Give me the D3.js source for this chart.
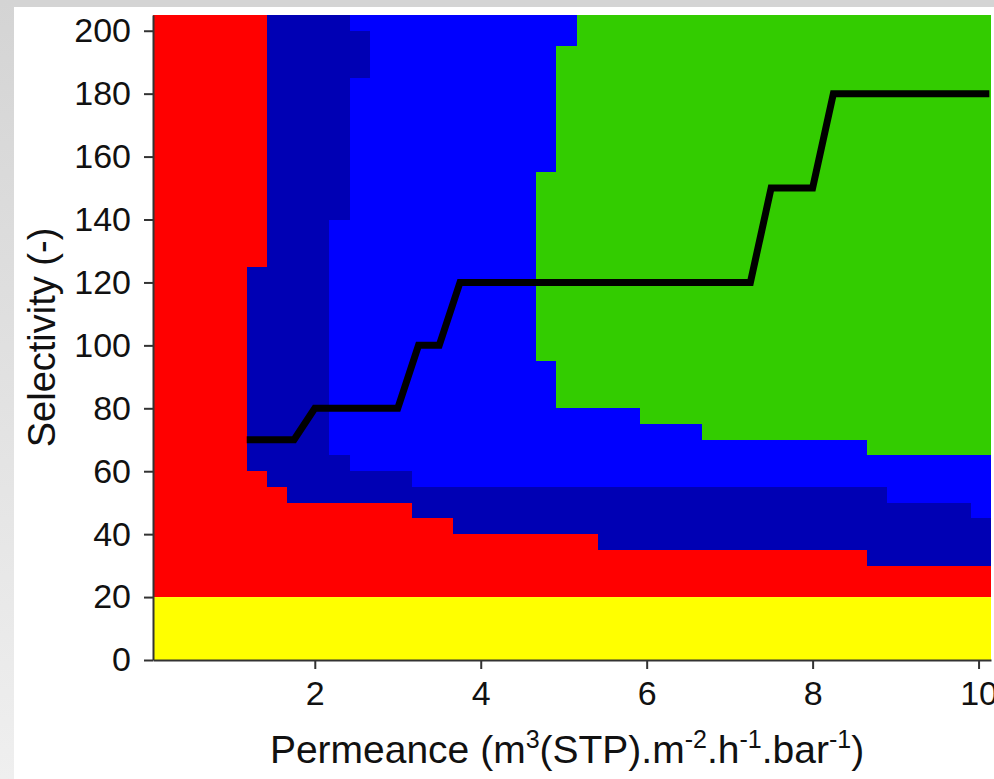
<!DOCTYPE html>
<html>
<head>
<meta charset="utf-8">
<script src="https://cdn.jsdelivr.net/npm/d3@7"></script>
<style>
  body { margin: 0; background: #fff; }
  .axis .domain, .axis line { stroke: #333; stroke-width: 2; }
  .axis text { font-family: "Liberation Sans", Arial, sans-serif; font-size: 34px; fill: #111; }
  .title { font-family: "Liberation Sans", Arial, sans-serif; fill: #111; }
</style>
</head>
<body>
<div class="map_plot"></div>
<script>
// axis ranges and ticks
const xExtent = [0.05, 10.15];
const yExtent = [0, 205];
const xTicks = [2, 4, 6, 8, 10];
const yTicks = [0, 20, 40, 60, 80, 100, 120, 140, 160, 180, 200];

// region boundaries (permeance, selectivity)
const yellowTop = 20;
// left edges: [x, y where this edge starts going down]
const navyLeft = [[1.42, 205], [1.18, 125]];
const navyFloor = [[1.18, 60], [1.42, 55], [1.67, 50], [3.17, 45], [3.66, 40], [5.41, 35], [8.66, 30]];
const blueLeft = [[2.42, 205], [2.67, 200], [2.42, 185], [2.17, 140]];
const blueFloor = [[2.17, 65], [2.42, 60], [3.17, 55], [8.9, 50], [9.91, 45]];
const greenLeft = [[5.16, 205], [4.91, 195], [4.67, 155]];
const greenFloor = [[4.67, 95], [4.91, 80], [5.92, 75], [6.67, 70], [8.66, 65]];

// black staircase line
const optimum = [[1.18, 70], [1.75, 70], [2.0, 80], [3.0, 80], [3.25, 100], [3.5, 100],
                 [3.75, 120], [7.25, 120], [7.5, 150], [8.0, 150], [8.25, 180], [10.13, 180]];

const W = 994, H = 779;
const margin = {top: 15, right: 3, bottom: 119, left: 153};

const svg = d3.select('.map_plot')
              .append('svg')
              .attr('width', W)
              .attr('height', H);

// grey frame of the screenshot
const defs = svg.append('defs');
const grad = defs.append('linearGradient')
                 .attr('id', 'leftFade')
                 .attr('x1', 0).attr('y1', 0).attr('x2', 0).attr('y2', 1);
grad.append('stop').attr('offset', '0%').attr('stop-color', '#d4d4d4');
grad.append('stop').attr('offset', '100%').attr('stop-color', '#efefef');
svg.append('rect').attr('width', W).attr('height', 7).attr('fill', '#d4d4d4');
svg.append('rect').attr('y', 0).attr('width', 14).attr('height', H).attr('fill', 'url(#leftFade)');

const x = d3.scaleLinear().domain(xExtent).range([margin.left, W - margin.right]);
const y = d3.scaleLinear().domain(yExtent).range([H - margin.bottom, margin.top]);

defs.append('clipPath').attr('id', 'plotClip')
    .append('rect')
    .attr('x', x(xExtent[0])).attr('y', y(yExtent[1]))
    .attr('width', x(xExtent[1]) - x(xExtent[0]))
    .attr('height', y(yExtent[0]) - y(yExtent[1]));

// build a staircase polygon from a left edge and a floor
function region(left, floor) {
    const pts = [[xExtent[1], yExtent[1]]];
    left.forEach((d, i) => {
        pts.push([d[0], d[1]]);
        const nextY = i < left.length - 1 ? left[i + 1][1] : floor[0][1];
        pts.push([d[0], nextY]);
    });
    floor.forEach((d, i) => {
        const nextX = i < floor.length - 1 ? floor[i + 1][0] : xExtent[1];
        pts.push([nextX, d[1]]);
        if (i < floor.length - 1) pts.push([nextX, floor[i + 1][1]]);
    });
    return pts;
}

const line = d3.line().x(d => x(d[0])).y(d => y(d[1]));
const plot = svg.append('g').attr('clip-path', 'url(#plotClip)');

plot.append('rect')
    .attr('x', x(xExtent[0])).attr('y', y(yExtent[1]))
    .attr('width', x(xExtent[1]) - x(xExtent[0]))
    .attr('height', y(yellowTop) - y(yExtent[1]))
    .attr('fill', '#ff0000');
plot.append('rect')
    .attr('x', x(xExtent[0])).attr('y', y(yellowTop))
    .attr('width', x(xExtent[1]) - x(xExtent[0]))
    .attr('height', y(yExtent[0]) - y(yellowTop))
    .attr('fill', '#ffff00');

const layers = [
    {left: navyLeft, floor: navyFloor, color: '#0000b4'},
    {left: blueLeft, floor: blueFloor, color: '#0000ff'},
    {left: greenLeft, floor: greenFloor, color: '#33cc00'}
];
plot.selectAll('path.zone')
    .data(layers)
    .enter()
    .append('path')
    .attr('class', 'zone')
    .attr('d', d => line(region(d.left, d.floor)) + 'Z')
    .attr('fill', d => d.color)
    .attr('shape-rendering', 'crispEdges');

plot.append('path')
    .attr('d', line(optimum))
    .attr('fill', 'none')
    .attr('stroke', '#000')
    .attr('stroke-width', 7)
    .attr('stroke-linejoin', 'miter');

// axes
const xAxis = d3.axisBottom(x).tickValues(xTicks).tickSize(9).tickPadding(12).tickSizeOuter(0);
const yAxis = d3.axisLeft(y).tickValues(yTicks).tickSize(9).tickPadding(13).tickSizeOuter(0);

svg.append('g')
   .attr('class', 'axis x-axis')
   .attr('transform', `translate(0, ${y(0)})`)
   .call(xAxis);
svg.append('g')
   .attr('class', 'axis y-axis')
   .attr('transform', `translate(${x(xExtent[0])}, 0)`)
   .call(yAxis);

// axis titles
const xTitle = svg.append('text')
                  .attr('class', 'title')
                  .attr('x', 567)
                  .attr('y', 763)
                  .attr('font-size', 39)
                  .attr('text-anchor', 'middle');
const parts = [['Permeance (m', 0], ['3', 1], ['(STP).m', 0], ['-2', 1], ['.h', 0], ['-1', 1], ['.bar', 0], ['-1', 1], [')', 0]];
let raised = false;
parts.forEach(p => {
    const t = xTitle.append('tspan').text(p[0]);
    if (p[1] && !raised) { t.attr('dy', -15).attr('font-size', 25); raised = true; }
    else if (p[1]) { t.attr('font-size', 25); }
    else if (raised) { t.attr('dy', 15); raised = false; }
});

svg.append('text')
   .attr('class', 'title')
   .attr('font-size', 38)
   .attr('transform', `translate(55, ${(y(yExtent[0]) + y(yExtent[1])) / 2}) rotate(-90)`)
   .attr('text-anchor', 'middle')
   .text('Selectivity (-)');
</script>
</body>
</html>
